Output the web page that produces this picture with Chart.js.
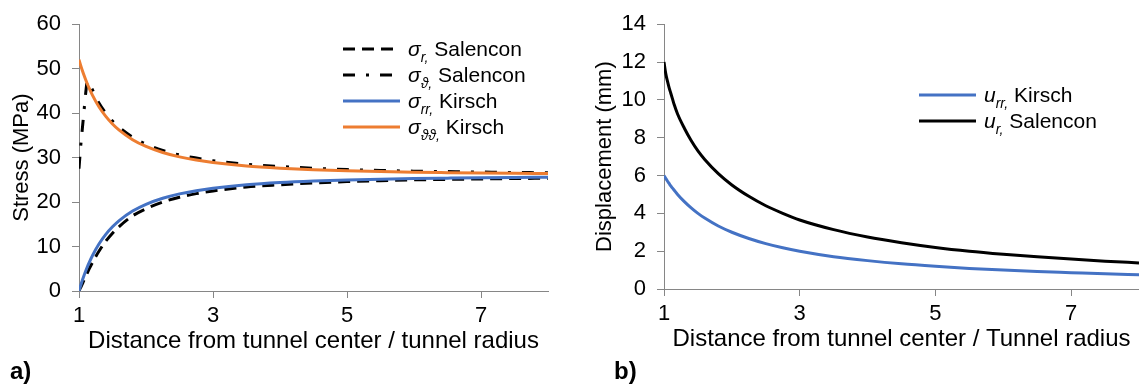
<!DOCTYPE html>
<html>
<head>
<meta charset="utf-8">
<script src="https://cdn.jsdelivr.net/npm/chart.js@4.4.0/dist/chart.umd.min.js"></script>
<style>
  html, body { margin:0; padding:0; background:#fff; width:1139px; height:391px; overflow:hidden; }
  body { position:relative; font-family:"Liberation Sans", Arial, sans-serif; color:#000; }
  .box { position:absolute; top:0; height:391px; }
  .legend { position:absolute; font-size:21px; line-height:26px; }
  .row { position:relative; height:26px; white-space:nowrap; }
  .row svg { position:absolute; left:0; top:0; }
  .row .txt { position:absolute; top:0; }
  .row i { font-style:italic; }
  .row sub { font-size:14px; font-style:italic; vertical-align:-6px; line-height:0; }
  .tag { position:absolute; font-weight:bold; font-size:24px; line-height:28px; }
</style>
</head>
<body>
<div class="box" id="boxA" style="left:0;width:560px;"><canvas id="chartA"></canvas></div>
<div class="box" id="boxB" style="left:580px;width:559px;"><canvas id="chartB"></canvas></div>

<div class="legend" style="left:343px;top:36px;">
  <div class="row"><svg width="60" height="26"><line x1="0" y1="13" x2="57" y2="13" stroke="#000" stroke-width="3" stroke-dasharray="12,7"/></svg><span class="txt" style="left:65px;"><i>σ</i><sub>r,</sub> Salencon</span></div>
  <div class="row"><svg width="60" height="26"><line x1="0" y1="13" x2="57" y2="13" stroke="#000" stroke-width="3" stroke-dasharray="12,11,3,11"/></svg><span class="txt" style="left:65px;"><i>σ</i><sub>ϑ,</sub> Salencon</span></div>
  <div class="row"><svg width="60" height="26"><line x1="0" y1="13" x2="57" y2="13" stroke="#4472C4" stroke-width="3"/></svg><span class="txt" style="left:65px;"><i>σ</i><sub>rr,</sub> Kirsch</span></div>
  <div class="row"><svg width="60" height="26"><line x1="0" y1="13" x2="57" y2="13" stroke="#ED7D31" stroke-width="3"/></svg><span class="txt" style="left:65px;"><i>σ</i><sub>ϑϑ,</sub> Kirsch</span></div>
</div>

<div class="legend" style="left:919px;top:82px;">
  <div class="row"><svg width="60" height="26"><line x1="0" y1="13" x2="57" y2="13" stroke="#4472C4" stroke-width="3"/></svg><span class="txt" style="left:65px;"><i>u</i><sub>rr,</sub> Kirsch</span></div>
  <div class="row"><svg width="60" height="26"><line x1="0" y1="13" x2="57" y2="13" stroke="#000" stroke-width="3"/></svg><span class="txt" style="left:65px;"><i>u</i><sub>r,</sub> Salencon</span></div>
</div>

<div class="tag" style="left:10px;top:357px;">a)</div>
<div class="tag" style="left:614px;top:357px;">b)</div>

<script>
// ---- data ----
const radius = [1, 1.025, 1.05, 1.075, 1.1, 1.125, 1.15, 1.2, 1.3, 1.4, 1.5, 1.6, 1.8, 2, 2.25, 2.5, 2.75, 3, 3.5, 4, 4.5, 5, 5.5, 6, 6.5, 7, 7.5, 8];

const sigmaR_Salencon  = [0, 0.8, 1.6, 2.5, 3.3, 4.1, 4.9, 6.4, 9.0, 11.2, 13.0, 14.5, 16.9, 18.5, 20.0, 21.1, 21.9, 22.5, 23.4, 23.9, 24.3, 24.6, 24.8, 25.0, 25.1, 25.2, 25.3, 25.35];
const sigmaT_Salencon  = [27.5, 32.5, 36.5, 40.5, 44.5, 47.2, 46.8, 45.3, 42.2, 40.0, 38.2, 36.8, 34.6, 33.0, 31.6, 30.6, 29.9, 29.3, 28.5, 28.0, 27.6, 27.3, 27.1, 26.95, 26.85, 26.75, 26.65, 26.6];
const sigmaRR_Kirsch   = [0, 1.25, 2.42, 3.5, 4.51, 5.46, 6.34, 7.94, 10.62, 12.73, 14.44, 15.84, 17.98, 19.5, 20.86, 21.84, 22.56, 23.11, 23.88, 24.38, 24.72, 24.96, 25.14, 25.28, 25.38, 25.47, 25.54, 25.59];
const sigmaTT_Kirsch   = [52, 50.75, 49.58, 48.5, 47.49, 46.54, 45.66, 44.06, 41.38, 39.27, 37.56, 36.16, 34.02, 32.5, 31.14, 30.16, 29.44, 28.89, 28.12, 27.63, 27.28, 27.04, 26.86, 26.72, 26.62, 26.53, 26.46, 26.41];

const uRR_Kirsch       = [6, 5.85, 5.71, 5.58, 5.45, 5.33, 5.22, 5.0, 4.62, 4.29, 4.0, 3.75, 3.33, 3.0, 2.67, 2.4, 2.18, 2.0, 1.71, 1.5, 1.33, 1.2, 1.09, 1.0, 0.92, 0.86, 0.8, 0.75];
const uR_Salencon      = [12.0, 11.4, 11.0, 10.65, 10.35, 10.05, 9.75, 9.25, 8.5, 7.85, 7.3, 6.85, 6.1, 5.5, 4.9, 4.4, 4.0, 3.65, 3.14, 2.75, 2.45, 2.2, 2.0, 1.84, 1.7, 1.58, 1.47, 1.38];

const xTicks = [1, 3, 5, 7];
const stressTicksMax = 60, stressStep = 10;
const dispTicksMax = 14, dispStep = 2;

// ---- helpers ----
const FONT = '"Liberation Sans", Arial, sans-serif';
const AXIS = '#868686';
const pts = (xs, ys) => xs.map((x, i) => ({ x, y: ys[i] }));

function line(data, color, dash) {
  return {
    data, borderColor: color, borderWidth: 3, borderDash: dash || [],
    pointRadius: 0, cubicInterpolationMode: 'monotone', fill: false
  };
}

function xScale(title) {
  return {
    type: 'linear', min: 1, max: 8,
    afterBuildTicks: s => { s.ticks = xTicks.map(v => ({ value: v })); },
    afterFit: s => { s.height = 65; },
    border: { display: true, color: AXIS, width: 1 },
    grid: { display: true, drawOnChartArea: false, drawTicks: true, tickLength: 7, color: AXIS },
    ticks: { color: '#000', font: { family: FONT, size: 22 }, padding: 5, maxRotation: 0 },
    title: { display: true, text: title, color: '#000', font: { family: FONT, size: 24 }, padding: 0 }
  };
}
function yScale(title, max, step, width) {
  return {
    type: 'linear', min: 0, max,
    afterFit: s => { s.width = width; },
    border: { display: true, color: AXIS, width: 1 },
    grid: { display: true, drawOnChartArea: false, drawTicks: true, tickLength: 7, color: AXIS },
    ticks: { stepSize: step, color: '#000', font: { family: FONT, size: 22 }, padding: 11 },
    title: { display: true, text: title, color: '#000', font: { family: FONT, size: 22 }, padding: 0 }
  };
}
const common = {
  responsive: true, maintainAspectRatio: false, animation: false,
  plugins: { legend: { display: false }, tooltip: { enabled: false } }
};

new Chart(document.getElementById('chartA'), {
  type: 'line',
  data: {
    datasets: [
      line(pts(radius, sigmaRR_Kirsch), '#4472C4'),
      line(pts(radius, sigmaTT_Kirsch), '#ED7D31'),
      line(pts(radius, sigmaR_Salencon), '#000', [12, 7]),
      line(pts(radius, sigmaT_Salencon), '#000', [12, 11, 3, 11])
    ]
  },
  options: Object.assign({}, common, {
    layout: { padding: { left: 9, top: 21, right: 12, bottom: 35 } },
    scales: {
      x: xScale('Distance from tunnel center / tunnel radius'),
      y: yScale('Stress (MPa)', stressTicksMax, stressStep, 70)
    }
  })
});

new Chart(document.getElementById('chartB'), {
  type: 'line',
  data: {
    datasets: [
      line(pts(radius, uRR_Kirsch), '#4472C4'),
      line(pts(radius, uR_Salencon), '#000')
    ]
  },
  options: Object.assign({}, common, {
    layout: { padding: { left: 12, top: 17, right: 0, bottom: 37 } },
    scales: {
      x: xScale('Distance from tunnel center / Tunnel radius'),
      y: yScale('Displacement (mm)', dispTicksMax, dispStep, 72)
    }
  })
});
</script>
</body>
</html>
